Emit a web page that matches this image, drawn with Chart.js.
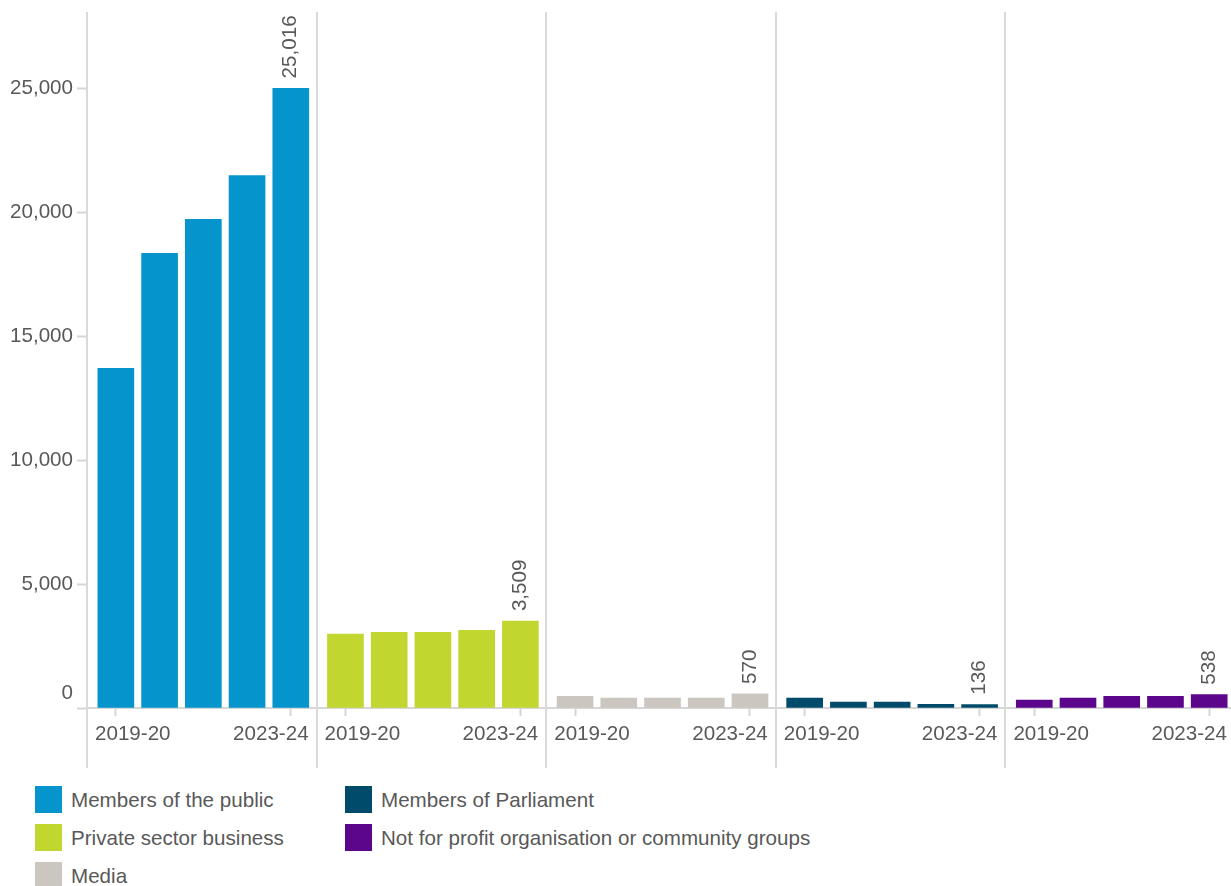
<!DOCTYPE html>
<html>
<head>
<meta charset="utf-8">
<script src="https://cdn.jsdelivr.net/npm/chart.js"></script>
<style>
  body { margin: 0; background: #fff; overflow: hidden; font-family: "Liberation Sans", Arial, sans-serif; }
  #wrap { position: relative; width: 1231px; height: 886px; }
  #chart { position: absolute; left: 0; top: 0; }
  #legend {
    position: absolute; left: 35px; top: 786px;
    display: grid; grid-template-columns: 310px auto; grid-template-rows: repeat(3, 38px);
    grid-auto-flow: column; color: #595959; font-size: 20.6px;
  }
  #legend .item { display: flex; align-items: flex-start; }
  #legend .box { width: 27px; height: 27px; margin-right: 9px; flex: none; }
  #legend .txt { line-height: 27px; }
</style>
</head>
<body>
<div id="wrap">
  <canvas id="chart" width="1236" height="775"></canvas>
  <div id="legend"></div>
</div>
<script>
const years = ['2019-20', '2020-21', '2021-22', '2022-23', '2023-24'];
const groupNames = [
  'Members of the public',
  'Private sector business',
  'Media',
  'Members of Parliament',
  'Not for profit organisation or community groups'
];
const groupColors = ['#0594cb', '#c1d62f', '#cbc7c0', '#004b6b', '#5c068c'];

const publicValues = [13715, 18360, 19730, 21500, 25016];
const privateValues = [2980, 3060, 3060, 3140, 3509];
const mediaValues = [476, 396, 396, 396, 570];
const parliamentValues = [396, 234, 234, 150, 136];
const notForProfitValues = [315, 396, 476, 476, 538];

const yTicks = [0, 5000, 10000, 15000, 20000, 25000];

const series = [publicValues, privateValues, mediaValues, parliamentValues, notForProfitValues];

// each group gets its own panel along a shared linear x axis
const PANEL = 5.25;
const FIRST_BAR = 0.66;
const TEXT = '#595959';
const FONT = '"Liberation Sans", Arial, sans-serif';
const FONT_SIZE = 20.6;

function panelPoints(values, panel) {
  return values.map((v, j) => ({ x: panel * PANEL + FIRST_BAR + j, y: v }));
}

const fmt = v => v.toLocaleString('en-US');

// separators, year labels under each panel and the value on the latest bar
const panelDecor = {
  id: 'panelDecor',
  afterDraw(chart) {
    const { ctx, chartArea, scales: { x } } = chart;
    ctx.save();
    ctx.strokeStyle = '#dadada';
    ctx.lineWidth = 2;
    for (let i = 0; i <= groupNames.length; i++) {
      const px = Math.round(x.getPixelForValue(i * PANEL));
      ctx.beginPath();
      ctx.moveTo(px, chartArea.top);
      ctx.lineTo(px, chartArea.bottom + 60);
      ctx.stroke();
    }

    ctx.fillStyle = TEXT;
    ctx.font = FONT_SIZE + 'px ' + FONT;
    ctx.textBaseline = 'middle';
    const ly = chartArea.bottom + 26;
    for (let i = 0; i < groupNames.length; i++) {
      const left = x.getPixelForValue(i * PANEL);
      const right = x.getPixelForValue((i + 1) * PANEL);
      ctx.textAlign = 'left';
      ctx.fillText(years[0], left + 8, ly);
      ctx.textAlign = 'right';
      ctx.fillText(years[years.length - 1], right - 8, ly);
    }

    ctx.textAlign = 'left';
    chart.data.datasets.forEach((ds, i) => {
      const bars = chart.getDatasetMeta(i).data;
      const bar = bars[bars.length - 1];
      const val = ds.data[ds.data.length - 1].y;
      ctx.save();
      ctx.translate(bar.x, bar.y - 10);
      ctx.rotate(-Math.PI / 2);
      ctx.fillText(fmt(val), 0, 0);
      ctx.restore();
    });
    ctx.restore();
  }
};

new Chart(document.getElementById('chart'), {
  type: 'bar',
  data: {
    datasets: groupNames.map((name, i) => ({
      label: name,
      data: panelPoints(series[i], i),
      backgroundColor: groupColors[i],
      barThickness: 36,
      grouped: false
    }))
  },
  options: {
    responsive: false,
    animation: false,
    layout: { padding: { top: 12, right: 1, left: 0, bottom: 0 } },
    plugins: {
      legend: { display: false },
      tooltip: { enabled: false }
    },
    scales: {
      x: {
        type: 'linear',
        offset: false,
        min: 0,
        max: PANEL * groupNames.length,
        afterBuildTicks: scale => {
          scale.ticks = groupNames.flatMap((_, i) => [
            i * PANEL + FIRST_BAR,
            i * PANEL + FIRST_BAR + years.length - 1
          ]).map(v => ({ value: v }));
        },
        afterFit: scale => {
          scale.height = 67;
          scale.paddingLeft = 0;
          scale.paddingRight = 0;
        },
        ticks: { display: false, autoSkip: false },
        grid: { offset: false, drawOnChartArea: false, tickLength: 8, tickColor: '#d6d6d6', tickWidth: 2 },
        border: { color: '#d6d6d6', width: 2 }
      },
      y: {
        min: 0,
        max: 28100,
        afterBuildTicks: scale => { scale.ticks = yTicks.map(v => ({ value: v })); },
        afterFit: scale => {
          scale.width = 87;
          scale.paddingTop = 0;
          scale.paddingBottom = 0;
        },
        ticks: {
          color: TEXT,
          padding: 4,
          autoSkip: false,
          font: { family: FONT, size: FONT_SIZE, lineHeight: 1.4 },
          // zero sits a little above the baseline
          callback: v => v === 0 ? ['0', ''] : fmt(v)
        },
        grid: { drawOnChartArea: false, tickLength: 10, tickColor: '#d6d6d6', tickWidth: 2 },
        border: { display: false }
      }
    }
  },
  plugins: [panelDecor]
});

const legend = document.getElementById('legend');
groupNames.forEach((name, i) => {
  const item = document.createElement('div');
  item.className = 'item';
  item.innerHTML = '<span class="box" style="background:' + groupColors[i] + '"></span><span class="txt"></span>';
  item.querySelector('.txt').textContent = name;
  legend.appendChild(item);
});
</script>
</body>
</html>
